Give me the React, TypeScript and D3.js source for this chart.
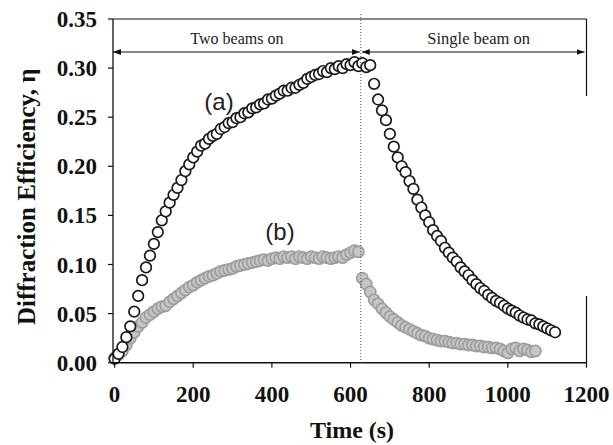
import React from 'react';
import * as d3 from 'd3';

// tick values for both axes
const xTicks = [0, 200, 400, 600, 800, 1000, 1200];
const yTicks = [0, 0.05, 0.1, 0.15, 0.2, 0.25, 0.3, 0.35];

// time at which the second beam is switched off (s)
const switchTime = 626;
const phaseLabels = ['Two beams on', 'Single beam on'];

// (a) : [time (s), diffraction efficiency]
const seriesA: [number, number][] = [
  [0, 0.004], [10, 0.009], [20, 0.016], [30, 0.026], [40, 0.037], [50, 0.052], [60, 0.068], [70, 0.084],
  [80, 0.097], [90, 0.109], [100, 0.121], [110, 0.133], [120, 0.145], [130, 0.154], [140, 0.163], [150, 0.171],
  [160, 0.178], [170, 0.186], [180, 0.195], [190, 0.202], [200, 0.209], [210, 0.215], [220, 0.221], [230, 0.223],
  [240, 0.228], [250, 0.231], [260, 0.233], [270, 0.238], [280, 0.24], [290, 0.244], [300, 0.245], [310, 0.249],
  [320, 0.25], [330, 0.254], [340, 0.255], [350, 0.259], [360, 0.26], [370, 0.263], [380, 0.264], [390, 0.268],
  [400, 0.269], [410, 0.272], [420, 0.274], [430, 0.277], [440, 0.277], [450, 0.28], [460, 0.28], [470, 0.283],
  [480, 0.285], [490, 0.289], [500, 0.291], [510, 0.293], [520, 0.294], [530, 0.297], [540, 0.296], [550, 0.3],
  [560, 0.299], [570, 0.302], [580, 0.3], [590, 0.304], [600, 0.303], [610, 0.306], [620, 0.302], [630, 0.305],
  [640, 0.301], [650, 0.303], [660, 0.284], [670, 0.268], [680, 0.257], [690, 0.247], [700, 0.233], [710, 0.22],
  [720, 0.209], [730, 0.2], [740, 0.194], [750, 0.185], [760, 0.177], [770, 0.166], [780, 0.158], [790, 0.15],
  [800, 0.143], [810, 0.135], [820, 0.129], [830, 0.124], [840, 0.117], [850, 0.112], [860, 0.107], [870, 0.103],
  [880, 0.097], [890, 0.093], [900, 0.089], [910, 0.084], [920, 0.08], [930, 0.076], [940, 0.073], [950, 0.069],
  [960, 0.066], [970, 0.063], [980, 0.061], [990, 0.058], [1000, 0.055], [1010, 0.053], [1020, 0.051], [1030, 0.048],
  [1040, 0.046], [1050, 0.044], [1060, 0.043], [1070, 0.04], [1080, 0.039], [1090, 0.037], [1100, 0.035], [1110, 0.033],
  [1120, 0.031],
];

// (b) : [time (s), diffraction efficiency]
const seriesB: [number, number][] = [
  [0, 0.005], [10, 0.008], [20, 0.012], [30, 0.018], [40, 0.025], [50, 0.031], [60, 0.037], [70, 0.041],
  [80, 0.046], [90, 0.049], [100, 0.052], [110, 0.055], [120, 0.057], [130, 0.058], [140, 0.062], [150, 0.065],
  [160, 0.068], [170, 0.071], [180, 0.074], [190, 0.077], [200, 0.079], [210, 0.082], [220, 0.084], [230, 0.086],
  [240, 0.088], [250, 0.089], [260, 0.091], [270, 0.093], [280, 0.094], [290, 0.095], [300, 0.096], [310, 0.098],
  [320, 0.099], [330, 0.1], [340, 0.101], [350, 0.102], [360, 0.103], [370, 0.104], [380, 0.105], [390, 0.104],
  [400, 0.106], [410, 0.107], [420, 0.106], [430, 0.108], [440, 0.107], [450, 0.108], [460, 0.106], [470, 0.108],
  [480, 0.107], [490, 0.106], [500, 0.108], [510, 0.107], [520, 0.106], [530, 0.108], [540, 0.107], [550, 0.106],
  [560, 0.107], [570, 0.108], [580, 0.107], [590, 0.11], [600, 0.112], [610, 0.114], [620, 0.113], [630, 0.086],
  [640, 0.08], [650, 0.072], [660, 0.064], [670, 0.06], [680, 0.055], [690, 0.051], [700, 0.047], [710, 0.044],
  [720, 0.041], [730, 0.038], [740, 0.036], [750, 0.034], [760, 0.032], [770, 0.03], [780, 0.028], [790, 0.027],
  [800, 0.025], [810, 0.024], [820, 0.023], [830, 0.022], [840, 0.022], [850, 0.021], [860, 0.02], [870, 0.02],
  [880, 0.019], [890, 0.019], [900, 0.018], [910, 0.018], [920, 0.017], [930, 0.017], [940, 0.016], [950, 0.016],
  [960, 0.015], [970, 0.015], [980, 0.014], [990, 0.012], [1000, 0.01], [1010, 0.014], [1020, 0.015], [1030, 0.012],
  [1040, 0.014], [1050, 0.013], [1060, 0.011], [1070, 0.012],
];

const serif = '"Liberation Serif", "Times New Roman", serif';
const sans = '"Liberation Sans", Arial, sans-serif';

const App = () => {
  const width = 613, height = 445;
  const left = 113, right = 586.5, top = 19, bottom = 362.7;

  // x starts a little below zero so the first points sit just off the axis
  const x = d3.scaleLinear().domain([-4, 1200]).range([left, right]);
  const y = d3.scaleLinear().domain([0, 0.35]).range([bottom, top]);

  const xs = x(switchTime);
  const arrowY = 52;

  return (
    <svg width={width} height={height} style={{ position: 'absolute', left: 0, top: 0, background: '#fff' }}>
      <defs>
        <marker id="arr" viewBox="0 0 8 6" refX="8" refY="3" markerWidth="8" markerHeight="6" markerUnits="userSpaceOnUse" orient="auto-start-reverse">
          <path d="M0,0 L8,3 L0,6 z" fill="#111" />
        </marker>
      </defs>

      {/* series (b) first so (a) sits on top */}
      {seriesB.map(([t, v], i) => (
        <circle key={`b${i}`} cx={x(t)} cy={y(v)} r={5.6} fill="#c6c6c6" stroke="#9c9c9c" strokeWidth={1.6} />
      ))}
      {seriesA.map(([t, v], i) => (
        <circle key={`a${i}`} cx={x(t)} cy={y(v)} r={5.3} fill="#fff" stroke="#1a1a1a" strokeWidth={1.7} />
      ))}

      {/* frame: left, bottom, top and the broken right edge */}
      <line x1={left} x2={left} y1={top} y2={bottom} stroke="#111" strokeWidth={1.3} />
      <line x1={left} x2={right} y1={bottom} y2={bottom} stroke="#111" strokeWidth={1.5} />
      <line x1={left} x2={right} y1={top} y2={top} stroke="#111" strokeWidth={1.2} />
      <line x1={right} x2={right} y1={top} y2={96} stroke="#111" strokeWidth={1.2} />
      <line x1={right} x2={right} y1={296} y2={bottom} stroke="#111" strokeWidth={1.2} />

      {/* switch-off line */}
      <line x1={xs} x2={xs} y1={14} y2={bottom} stroke="#555" strokeWidth={1} strokeDasharray="1,2" />

      {/* phase arrows */}
      <line x1={left} x2={xs - 1} y1={arrowY} y2={arrowY} stroke="#111" strokeWidth={1.2} markerStart="url(#arr)" markerEnd="url(#arr)" />
      <line x1={xs + 1} x2={right - 2} y1={arrowY} y2={arrowY} stroke="#111" strokeWidth={1.2} markerStart="url(#arr)" markerEnd="url(#arr)" />
      <text x={(left + xs) / 2} y={44} textAnchor="middle" fontFamily={serif} fontSize={16} fill="#222">{phaseLabels[0]}</text>
      <text x={(xs + right) / 2 + 5} y={44} textAnchor="middle" fontFamily={serif} fontSize={16.5} fill="#222">{phaseLabels[1]}</text>

      {/* y axis ticks */}
      {yTicks.map(v => (
        <g key={`yt${v}`}>
          <line x1={left - 5} x2={left} y1={y(v)} y2={y(v)} stroke="#111" strokeWidth={1.2} />
          <text x={97} y={y(v)} dy="0.35em" textAnchor="end" fontFamily={serif} fontWeight="bold" fontSize={23} fill="#111">{v.toFixed(2)}</text>
        </g>
      ))}

      {/* x axis ticks */}
      {xTicks.map(t => (
        <g key={`xt${t}`}>
          <line x1={x(t)} x2={x(t)} y1={bottom} y2={bottom + 5} stroke="#111" strokeWidth={1.2} />
          <text x={x(t)} y={402} textAnchor="middle" fontFamily={serif} fontWeight="bold" fontSize={23} fill="#111">{t}</text>
        </g>
      ))}

      {/* axis titles */}
      <text x={352} y={438} textAnchor="middle" fontFamily={serif} fontWeight="bold" fontSize={24} fill="#111">Time (s)</text>
      <text transform={`translate(35, ${(top + bottom) / 2 + 6}) rotate(-90)`} textAnchor="middle" fontFamily={serif} fontWeight="bold" fontSize={25} fill="#111">
        Diffraction Efficiency, η
      </text>

      {/* curve labels */}
      <text x={219} y={110} textAnchor="middle" fontFamily={sans} fontSize={24} fill="#222">(a)</text>
      <text x={280} y={240} textAnchor="middle" fontFamily={sans} fontSize={24} fill="#222">(b)</text>
    </svg>
  );
};

export default App;
